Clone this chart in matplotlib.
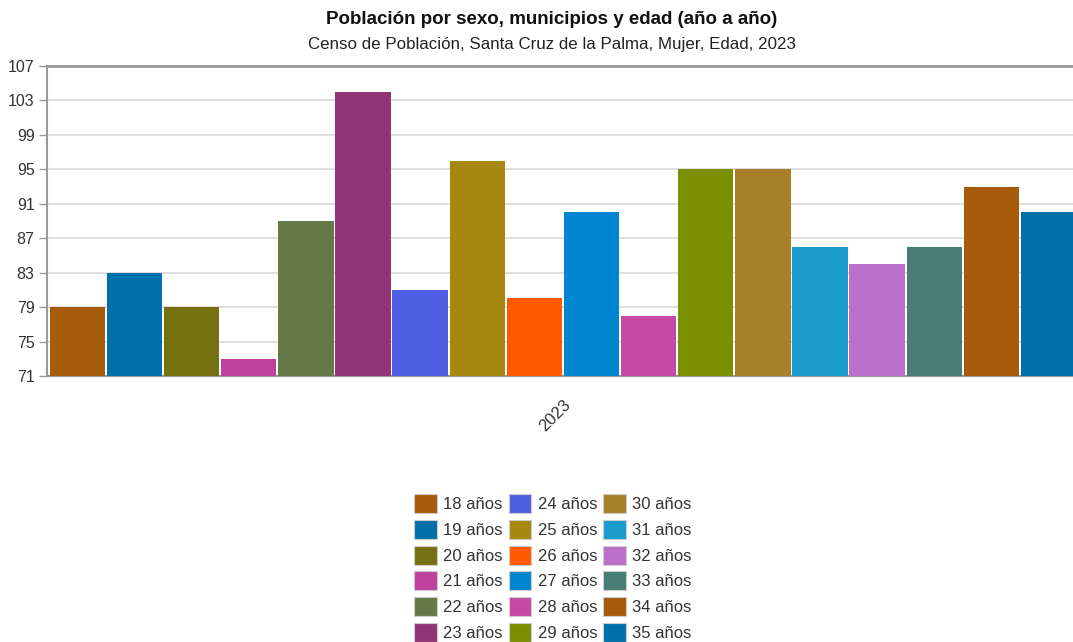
import matplotlib
matplotlib.use("Agg")
import matplotlib.pyplot as plt
from matplotlib.patches import Patch

plt.rcParams['font.family'] = ['Liberation Sans', 'DejaVu Sans']

categories = ["2023"]
series = ["18 años", "19 años", "20 años", "21 años", "22 años", "23 años",
          "24 años", "25 años", "26 años", "27 años", "28 años", "29 años",
          "30 años", "31 años", "32 años", "33 años", "34 años", "35 años"]
values = [79, 83, 79, 73, 89, 104, 81, 96, 80, 90, 78, 95, 95, 86, 84, 86, 93, 90]
colors = ["#a65c0a", "#0070a8", "#767010", "#c040a0", "#667a48", "#923576",
          "#4f5fe4", "#a8880f", "#ff5a00", "#0085d0", "#c848a8", "#7a9000",
          "#a8802a", "#1a9ccc", "#bb70cc", "#467e76", "#a65c0a", "#0070a8"]
yticks = [71, 75, 79, 83, 87, 91, 95, 99, 103, 107]

W, H = 1073, 642
fig = plt.figure(figsize=(W / 100, H / 100), dpi=100)
left, right, top, bottom = 47, 1080, 66, 376
ax = fig.add_axes([left / W, 1 - bottom / H, (right - left) / W, (bottom - top) / H])

n = len(values)
for i, (v, c) in enumerate(zip(values, colors)):
    ax.bar(i, v - 71, bottom=71, width=0.97, color=c, label=series[i], zorder=3)

ax.set_xlim(-0.53, n - 0.45)
ax.set_ylim(71, 107)
ax.set_yticks(yticks)
ax.set_yticklabels([str(t) for t in yticks], fontsize=11.5, color="#333333")
ax.grid(axis="y", color="#d9d9d9", linewidth=1.2, zorder=0)
ax.set_xticks([(n - 1) / 2])
ax.set_xticklabels(categories, rotation=45, fontsize=12, color="#333333", ha="right", va="top",
                   rotation_mode="anchor")
ax.tick_params(axis="x", length=0, pad=15)
ax.tick_params(axis="y", length=6, width=1, color="#999999", pad=3)
for s in ["top", "left", "bottom"]:
    ax.spines[s].set_color("#999999")
ax.spines["top"].set_linewidth(2)
ax.spines["left"].set_linewidth(1.5)
ax.spines["bottom"].set_linewidth(1.5)
ax.spines["right"].set_visible(False)

fig.text(552 / W, 1 - 20 / H, "Población por sexo, municipios y edad (año a año)",
         ha="center", va="center", fontsize=13.5, fontweight="bold", color="#111111")
fig.text(552 / W, 1 - 44 / H, "Censo de Población, Santa Cruz de la Palma, Mujer, Edad, 2023",
         ha="center", va="center", fontsize=12.2, color="#222222")

handles = [Patch(facecolor=c, edgecolor="#cccccc", linewidth=0.8) for c in colors]
leg = fig.legend(handles, series, loc="center", bbox_to_anchor=(553 / W, 1 - 568 / H),
                 ncol=3, frameon=False, fontsize=12, handlelength=1.35, handleheight=1.35,
                 handletextpad=0.4, columnspacing=0.35, labelspacing=0.42,
                 labelcolor="#333333")

fig.savefig("out.png", dpi=100)
